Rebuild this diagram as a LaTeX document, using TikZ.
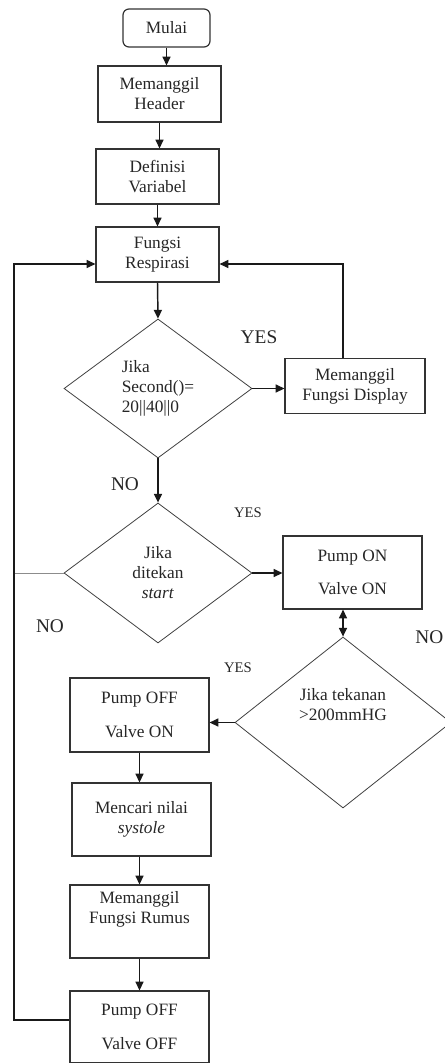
\documentclass[tikz,border=0pt]{standalone}
\usepackage{fontspec}
\setmainfont{Liberation Serif}
\usetikzlibrary{shapes.geometric,arrows.meta}

\begin{document}
\begin{tikzpicture}[x=0.75pt, y=-0.75pt,
  every node/.style={font=\fontsize{13}{15}\selectfont, text=black!85},
  box/.style={draw=black!80, line width=0.9pt, rectangle, align=center, inner sep=0pt},
  startbox/.style={box, rounded corners=4.5pt},
  cond/.style={draw=black!75, line width=0.6pt, diamond, align=center, inner sep=0pt},
  arr/.style={draw=black!90, line width=1.1pt, -{Triangle[length=6.5pt,width=6pt]}},
  looparr/.style={arr, line width=0.8pt},
  biglbl/.style={font=\fontsize{14.5}{17}\selectfont},
  smalllbl/.style={font=\fontsize{11}{13}\selectfont}]
  \useasboundingbox (0,0) rectangle (445,1063);

  \node[startbox, minimum width=65.25pt, minimum height=28.5pt] (mulai) at (166.5,28) {Mulai};
  \node[box, minimum width=92.25pt, minimum height=42pt] (header) at (159.5,94) {Memanggil\\Header};
  \node[box, minimum width=92.25pt, minimum height=41.25pt] (def) at (157.5,176.5) {Definisi\\Variabel};
  \node[box, minimum width=92.25pt, minimum height=41.25pt] (resp) at (157.5,254.5) {Fungsi\\Respirasi};
  \node[cond, minimum width=141pt, minimum height=104.25pt] (dsec) at (158,388.5)
    {\begin{tabular}{@{}l@{}}Jika\\Second()=\\20||40||0\end{tabular}};
  \node[box, minimum width=105pt, minimum height=41.25pt] (disp) at (355,386) {Memanggil\\Fungsi Display};
  \node[cond, minimum width=141pt, minimum height=105pt] (dstart) at (158,573) {Jika\\ditekan\\\textit{start}};
  \node[box, minimum width=104.25pt, minimum height=54.75pt] (pon) at (352.5,572.5) {Pump ON\\[10pt]Valve ON};
  \node[cond, minimum width=162pt, minimum height=128.25pt] (dtek) at (343,722.5) {Jika tekanan\\{>}200mmHG\\[12pt]};
  \node[box, minimum width=104.25pt, minimum height=55.5pt] (off1) at (139.5,715) {Pump OFF\\[10pt]Valve ON};
  \node[box, minimum width=104.25pt, minimum height=54.75pt] (cari) at (141.5,819.5) {Mencari nilai\\\textit{systole}};
  \node[box, minimum width=104.25pt, minimum height=54.75pt] (rumus) at (139.5,921.5) {Memanggil\\Fungsi Rumus\\[6pt]};
  \node[box, minimum width=104.25pt, minimum height=54pt] (off2) at (139.5,1027) {Pump OFF\\[10pt]Valve OFF};

  \node[biglbl] (yes1) at (259,337) {YES};
  \node[biglbl] (no1) at (125,484) {NO};
  \node[smalllbl] (yes2) at (248,513) {YES};
  \node[biglbl] (no2) at (50,626) {NO};
  \node[biglbl, anchor=east, inner sep=1pt] (no3) at (445,637) {NO};
  \node[smalllbl] (yes3) at (238,668) {YES};

  \coordinate (lb) at (14,1020);
  \coordinate (lt) at (14,264);

  \draw[arr] (mulai.south) -- (mulai.south |- header.north);
  \draw[arr] (header.south) -- (header.south |- def.north);
  \draw[arr] (def.south) -- (resp.north);
  \draw[arr] (resp.south) -- (dsec.north);
  \draw[arr] (dsec.east) -- (dsec.east -| disp.west);
  \draw[looparr] (disp.north -| dtek.north) |- (lt -| resp.east);
  \draw[arr] (dsec.south) -- (dstart.north);
  \draw[arr] (dstart.east) -- (dstart.east -| pon.west);
  \draw[draw=black!90, line width=1.1pt, {Triangle[length=6.5pt,width=6pt]}-{Triangle[length=6.5pt,width=6pt]}]
    (pon.south -| dtek.north) -- (dtek.north);
  \draw[arr] (dtek.west) -- (dtek.west -| off1.east);
  \draw[arr] (off1.south) -- (off1.south |- cari.north);
  \draw[arr] (cari.south -| rumus.south) -- (rumus.north);
  \draw[arr] (rumus.south) -- (off2.north);
  \draw[black!45, line width=0.6pt] (dstart.west) -- (dstart.west -| lb);
  \draw[looparr] (off2.west |- lb) -- (lb) -- (lt) -- (lt -| resp.west);
\end{tikzpicture}
\end{document}
